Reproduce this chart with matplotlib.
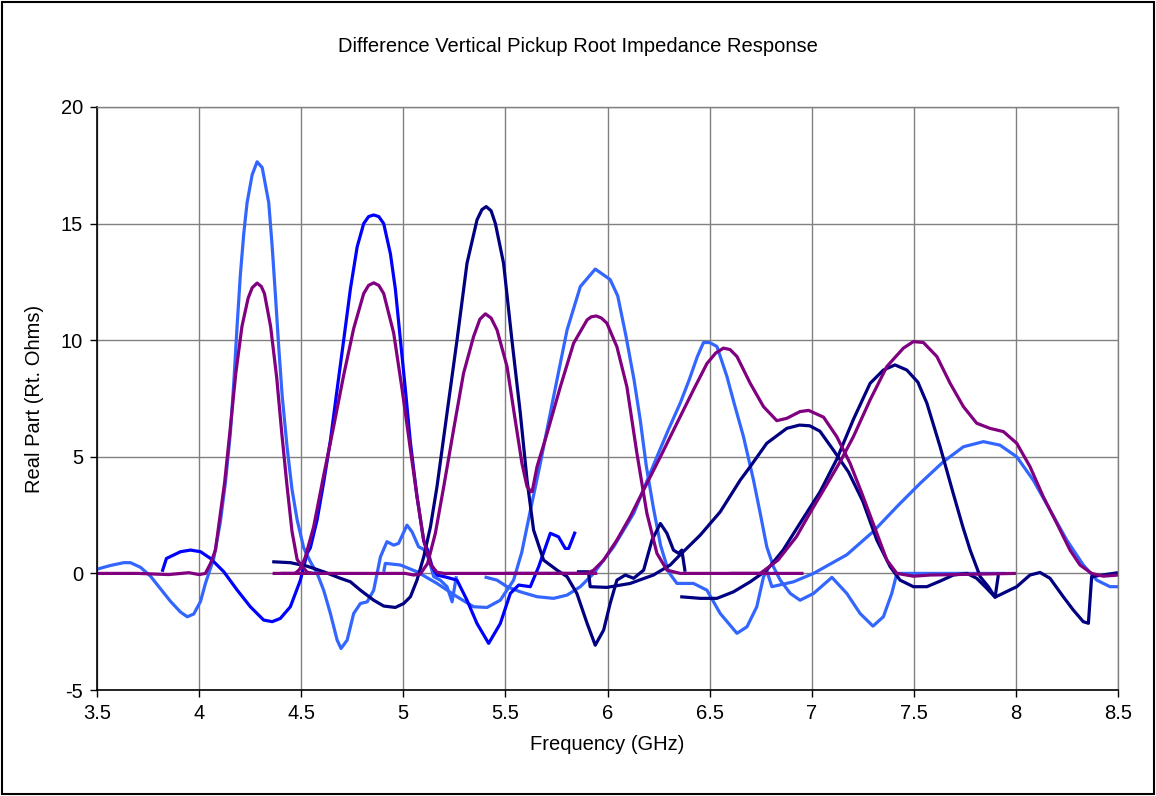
import matplotlib as mpl
mpl.use('Agg')
import matplotlib.pyplot as plt
from matplotlib.patches import Rectangle

# light blue traces
lb1_f = [3.5, 3.566, 3.631, 3.664, 3.713, 3.762, 3.811, 3.86, 3.909, 3.942, 3.974, 4.007, 4.031, 4.072,
         4.104, 4.129, 4.153, 4.17, 4.186, 4.202, 4.219, 4.235, 4.26, 4.284, 4.309, 4.341, 4.358, 4.374,
         4.39, 4.407, 4.431, 4.455, 4.48, 4.512, 4.545, 4.578, 4.61, 4.643, 4.676, 4.695, 4.725, 4.757,
         4.79, 4.823, 4.855, 4.888, 4.92, 4.953, 4.977, 5.018, 5.043, 5.075, 5.1, 5.124, 5.149, 5.181,
         5.214, 5.239, 5.26]
lb1_v = [0.18, 0.34, 0.46, 0.46, 0.26, -0.12, -0.66, -1.2, -1.66, -1.86, -1.74, -1.2, -0.43, 0.65,
         2.2, 3.9, 6.0, 8.2, 10.6, 12.8, 14.6, 15.9, 17.1, 17.65, 17.4, 15.9, 14.0, 11.9,
         9.7, 7.6, 5.4, 3.6, 2.3, 1.1, 0.5, 0.0, -0.72, -1.72, -2.86, -3.22, -2.86, -1.72,
         -1.29, -1.22, -0.72, 0.71, 1.36, 1.21, 1.29, 2.07, 1.78, 1.14, 1.03, 0.64, -0.14, -0.29,
         -0.57, -1.22, -0.12]

lb2_f = [4.904, 4.912, 4.986, 5.067, 5.165, 5.263, 5.344, 5.41, 5.475, 5.54, 5.58, 5.62, 5.671, 5.736,
         5.802, 5.867, 5.94, 6.013, 6.05, 6.09, 6.13, 6.16, 6.19, 6.225, 6.26, 6.3, 6.34, 6.421, 6.487,
         6.552, 6.634, 6.683, 6.731, 6.764, 6.78, 6.805, 6.911, 7.009, 7.172, 7.302, 7.417, 7.531,
         7.645, 7.743, 7.841, 7.922, 8.004, 8.085, 8.167, 8.249, 8.33, 8.396, 8.461, 8.5]
lb2_v = [0.07, 0.43, 0.36, 0.07, -0.43, -1.0, -1.43, -1.46, -1.15, -0.29, 0.9, 2.6, 4.72, 7.58,
         10.44, 12.3, 13.05, 12.6, 11.9, 10.2, 8.3, 6.6, 4.6, 2.8, 1.2, 0.05, -0.43, -0.43, -0.72,
         -1.72, -2.57, -2.29, -1.43, -0.15, 0.11, -0.57, -0.36, 0.0, 0.8, 1.8, 2.86, 3.86,
         4.79, 5.43, 5.65, 5.5, 5.0, 4.0, 2.72, 1.43, 0.36, -0.29, -0.57, -0.57]

lb3_f = [5.398, 5.459, 5.508, 5.573, 5.655, 5.736, 5.802, 5.867, 5.932, 6.03, 6.128, 6.242, 6.3,
         6.356, 6.4, 6.44, 6.47, 6.5, 6.536, 6.585, 6.62, 6.666, 6.715, 6.748, 6.78, 6.813, 6.846,
         6.895, 6.943, 7.009, 7.099, 7.172, 7.237, 7.3, 7.351, 7.392, 7.417, 7.95]
lb3_v = [-0.15, -0.29, -0.57, -0.79, -1.0, -1.07, -0.93, -0.57, 0.0, 1.14, 2.57, 5.0, 6.2,
         7.3, 8.3, 9.3, 9.9, 9.9, 9.73, 8.44, 7.3, 5.86, 4.0, 2.57, 1.14, 0.28, -0.29,
         -0.86, -1.15, -0.86, -0.17, -0.86, -1.72, -2.26, -1.86, -0.86, 0.0, 0.0]

# blue trace
b1_f = [3.819, 3.84, 3.909, 3.958, 4.007, 4.056, 4.121, 4.186, 4.251, 4.316, 4.358, 4.398, 4.447,
        4.496, 4.529, 4.545, 4.578, 4.61, 4.643, 4.676, 4.708, 4.741, 4.774, 4.806, 4.83, 4.855,
        4.88, 4.904, 4.937, 4.961, 4.986, 5.01, 5.035, 5.067, 5.1, 5.119, 5.141, 5.165, 5.214,
        5.263, 5.312, 5.361, 5.418, 5.475, 5.524, 5.565, 5.622, 5.663, 5.72, 5.76, 5.793, 5.81, 5.842]
b1_v = [0.07, 0.64, 0.93, 1.0, 0.93, 0.64, 0.07, -0.71, -1.43, -2.0, -2.07, -1.93, -1.43,
        -0.29, 0.86, 1.1, 2.3, 3.9, 5.7, 7.9, 10.0, 12.2, 14.0, 15.0, 15.3, 15.37,
        15.3, 15.0, 13.7, 12.2, 10.0, 7.9, 5.6, 3.3, 1.4, 1.0, 0.29, -0.07, -0.17,
        -0.29, -1.15, -2.15, -3.0, -2.15, -0.86, -0.5, -0.57, 0.29, 1.72, 1.57, 1.07, 1.07, 1.79]

# navy traces
n1_f = [4.358, 4.447, 4.529, 4.61, 4.692, 4.741, 4.79, 4.855, 4.904, 4.961, 5.002, 5.035, 5.067,
        5.1, 5.133, 5.165, 5.214, 5.263, 5.312, 5.361, 5.385, 5.406, 5.43, 5.451, 5.491, 5.532,
        5.573, 5.606, 5.638, 5.687, 5.753, 5.802, 5.85, 5.9, 5.94, 5.981, 6.013, 6.046, 6.087,
        6.128, 6.177, 6.218, 6.259, 6.291, 6.323, 6.348, 6.364, 6.38]
n1_v = [0.5, 0.46, 0.31, 0.07, -0.21, -0.36, -0.72, -1.15, -1.4, -1.46, -1.29, -1.0, -0.29,
        0.71, 2.0, 3.72, 6.87, 10.0, 13.3, 15.16, 15.6, 15.73, 15.55, 15.0, 13.3, 10.0,
        6.87, 4.0, 1.86, 0.57, 0.14, -0.14, -0.86, -2.14, -3.08, -2.43, -1.29, -0.29, -0.07,
        -0.21, 0.14, 1.43, 2.14, 1.72, 1.0, 0.86, 1.0, 0.07]

n2_f = [5.85, 5.907, 5.915, 5.997, 6.111, 6.225, 6.307, 6.356, 6.454, 6.552, 6.65, 6.699, 6.78,
        6.878, 6.94, 6.99, 7.04, 7.106, 7.18, 7.25, 7.319, 7.384, 7.433, 7.498, 7.564, 7.629,
        7.694, 7.76, 7.808, 7.857, 7.898, 7.914]
n2_v = [0.07, 0.07, -0.57, -0.6, -0.43, -0.07, 0.36, 0.8, 1.64, 2.64, 4.0, 4.58, 5.58,
        6.22, 6.36, 6.33, 6.1, 5.29, 4.35, 3.1, 1.43, 0.29, -0.29, -0.57, -0.57, -0.33,
        -0.07, 0.0, -0.21, -0.64, -1.02, -0.07]

n3_f = [6.356, 6.454, 6.536, 6.617, 6.699, 6.78, 6.86, 6.95, 7.041, 7.123, 7.204, 7.286, 7.351,
        7.408, 7.466, 7.52, 7.564, 7.629, 7.694, 7.74, 7.776, 7.825, 7.865, 7.898, 8.004, 8.069,
        8.118, 8.167, 8.232, 8.281, 8.33, 8.355, 8.371, 8.5]
n3_v = [-1.0, -1.07, -1.07, -0.79, -0.36, 0.14, 1.0, 2.25, 3.5, 4.9, 6.6, 8.15, 8.72,
        8.94, 8.72, 8.2, 7.3, 5.43, 3.4, 2.0, 1.0, -0.14, -0.57, -1.02, -0.57, -0.07,
        0.04, -0.21, -1.0, -1.57, -2.07, -2.14, -0.14, 0.03]

# purple traces
p1_f = [3.5, 3.7, 3.85, 3.95, 4.0, 4.031, 4.056, 4.08, 4.1, 4.125, 4.15, 4.18, 4.21, 4.24, 4.26,
        4.284, 4.305, 4.32, 4.35, 4.38, 4.405, 4.43, 4.455, 4.48, 4.504, 4.53, 4.56]
p1_v = [0.0, 0.0, -0.05, 0.03, -0.05, 0.0, 0.43, 1.0, 2.3, 3.9, 6.0, 8.6, 10.6, 11.8, 12.25,
        12.45, 12.3, 12.0, 10.6, 8.4, 6.0, 3.8, 1.8, 0.6, 0.3, 0.05, 0.0]

p2_f = [4.36, 4.47, 4.49, 4.504, 4.52, 4.561, 4.61, 4.659, 4.708, 4.757, 4.806, 4.83, 4.855, 4.88,
        4.904, 4.953, 4.994, 5.035, 5.067, 5.1, 5.133, 5.165, 5.2, 5.95]
p2_v = [0.0, 0.0, 0.15, 0.36, 0.7, 2.0, 4.2, 6.3, 8.5, 10.5, 12.0, 12.35, 12.46, 12.35,
        12.0, 10.3, 7.9, 5.3, 3.3, 1.4, 0.4, 0.05, 0.0, 0.0]

p3_f = [4.4, 5.01, 5.05, 5.083, 5.119, 5.157, 5.198, 5.246, 5.295, 5.344, 5.375, 5.402, 5.43,
        5.459, 5.508, 5.548, 5.581, 5.606, 5.63]
p3_v = [0.0, 0.0, -0.07, -0.03, 0.43, 1.72, 3.72, 6.15, 8.58, 10.15, 10.9, 11.13, 10.95,
        10.44, 8.87, 6.58, 4.72, 3.72, 3.46]

p4_f = [5.63, 5.655, 5.704, 5.769, 5.834, 5.9, 5.92, 5.945, 5.97, 5.997, 6.046, 6.095, 6.144,
        6.193, 6.242, 6.291, 6.356, 6.96]
p4_v = [3.46, 4.58, 6.0, 8.0, 9.87, 10.87, 11.0, 11.04, 10.95, 10.73, 9.72, 8.0, 5.15,
        2.57, 0.86, 0.14, 0.0, 0.0]

p5_f = [5.5, 5.9, 5.932, 5.981, 6.046, 6.111, 6.177, 6.259, 6.34, 6.421, 6.487, 6.53, 6.568,
        6.6, 6.634, 6.699, 6.764, 6.829, 6.878, 6.943, 6.985, 7.058, 7.123, 7.188, 7.245, 7.319,
        7.368, 7.417, 7.498, 7.58, 8.0]
p5_v = [0.0, 0.0, 0.14, 0.57, 1.43, 2.43, 3.58, 5.0, 6.44, 7.87, 9.0, 9.45, 9.66,
        9.6, 9.3, 8.15, 7.15, 6.55, 6.65, 6.94, 6.99, 6.7, 5.86, 4.72, 3.45, 1.72,
        0.57, 0.0, -0.12, -0.07, 0.0]

p6_f = [6.6, 6.748, 6.835, 6.925, 7.0, 7.06, 7.14, 7.204, 7.286, 7.368, 7.449, 7.498, 7.547,
        7.613, 7.678, 7.743, 7.808, 7.873, 7.939, 8.004, 8.069, 8.134, 8.2, 8.265, 8.314,
        8.371, 8.428, 8.5]
p6_v = [0.0, 0.0, 0.57, 1.57, 2.72, 3.6, 4.8, 5.86, 7.44, 8.87, 9.66, 9.94, 9.9,
        9.3, 8.15, 7.15, 6.44, 6.22, 6.08, 5.58, 4.58, 3.29, 2.15, 1.0, 0.36,
        0.0, -0.12, -0.07]

LIGHT = '#3366FF'
BLUE = '#0000FF'
NAVY = '#000080'
PURPLE = '#800080'

plt.rcParams['font.family'] = ['Liberation Sans', 'DejaVu Sans']
plt.rcParams['axes.unicode_minus'] = False

fig = plt.figure(figsize=(11.56, 7.96), dpi=100)
ax = fig.add_axes([97 / 1156, 106 / 796, 1021 / 1156, 583 / 796])

lw = 2.3
style = dict(lw=lw, solid_joinstyle='round', solid_capstyle='butt')
ax.plot(lb1_f, lb1_v, color=LIGHT, **style)
ax.plot(lb2_f, lb2_v, color=LIGHT, **style)
ax.plot(lb3_f, lb3_v, color=LIGHT, **style)
ax.plot(b1_f, b1_v, color=BLUE, **style)
ax.plot(n1_f, n1_v, color=NAVY, **style)
ax.plot(n2_f, n2_v, color=NAVY, **style)
ax.plot(n3_f, n3_v, color=NAVY, **style)
for pf, pv in [(p1_f, p1_v), (p2_f, p2_v), (p3_f, p3_v), (p4_f, p4_v), (p5_f, p5_v), (p6_f, p6_v)]:
    ax.plot(pf, pv, color=PURPLE, **style)

ax.set_xlim(3.5, 8.5)
ax.set_ylim(-5, 20)
ax.set_xticks([3.5, 4, 4.5, 5, 5.5, 6, 6.5, 7, 7.5, 8, 8.5])
ax.set_xticklabels(['3.5', '4', '4.5', '5', '5.5', '6', '6.5', '7', '7.5', '8', '8.5'])
ax.set_yticks([-5, 0, 5, 10, 15, 20])
ax.grid(True, color='#808080', lw=1.0)
ax.set_axisbelow(True)
for s in ['top', 'right']:
    ax.spines[s].set_color('#808080')
    ax.spines[s].set_linewidth(1.0)
for s in ['left', 'bottom']:
    ax.spines[s].set_color('black')
    ax.spines[s].set_linewidth(1.2)
ax.tick_params(direction='out', length=5, width=1, labelsize=14.5, pad=5)

ax.set_xlabel('Frequency (GHz)', fontsize=14.5, labelpad=9)
ax.set_ylabel('Real Part (Rt. Ohms)', fontsize=14.5, labelpad=12)
fig.text(0.5, 1 - 46 / 796, 'Difference Vertical Pickup Root Impedance Response',
         ha='center', va='center', fontsize=14.5)

fig.patches.append(Rectangle((2 / 1156, 2 / 796), 1152 / 1156, 792 / 796, transform=fig.transFigure,
                             fill=False, edgecolor='black', lw=1.5))

fig.savefig('out.png', dpi=100)
